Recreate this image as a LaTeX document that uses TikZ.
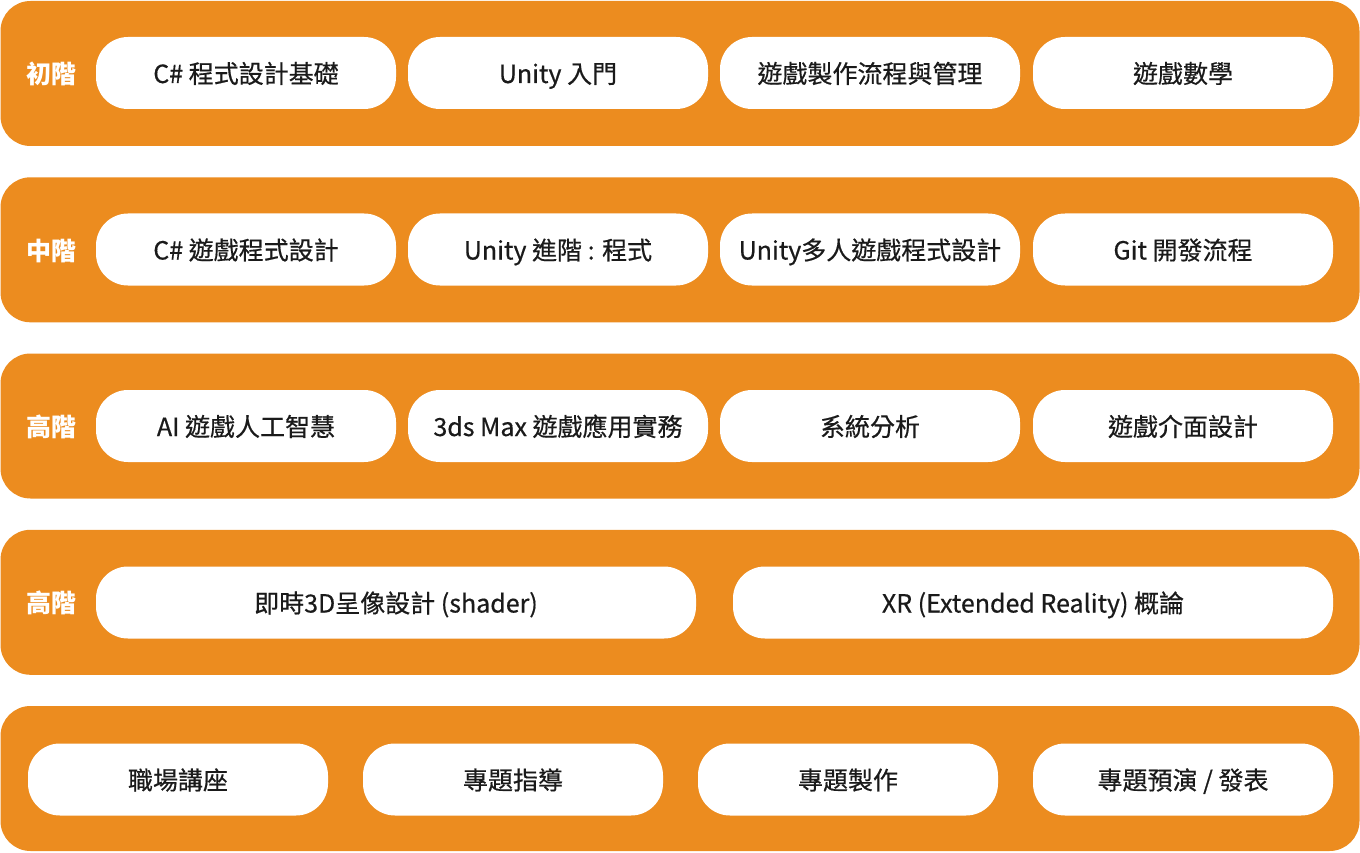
\documentclass[tikz,border=0pt]{standalone}
\usepackage{fontspec}
\setmainfont{Noto Sans CJK TC}
\newfontfamily\pillfont{Noto Sans CJK TC}[FakeBold=0.5]
\definecolor{bandorange}{HTML}{EC8C1F}
\definecolor{pilltext}{HTML}{1A1A1A}
\begin{document}
\begin{tikzpicture}[x=1pt,y=-1pt,
  band/.style={fill=bandorange,draw=none,rounded corners=30pt,minimum width=1359pt,minimum height=145pt,inner sep=0pt},
  pill/.style={fill=white,draw=none,rounded corners=32pt,minimum width=300pt,minimum height=72pt,inner sep=0pt},
  widepill/.style={pill,minimum width=600pt},
  lvl/.style={text=white,font=\fontsize{25}{28}\selectfont\bfseries,inner sep=0pt,text height=20pt,text depth=0pt},
  ptext/.style={font=\pillfont\fontsize{25}{28}\selectfont,text=pilltext,inner sep=0pt,text height=20pt,text depth=0pt}]
\useasboundingbox (0,0) rectangle (1360,853);
% bands
\node[band] (b1) at (680,73.5) {};
\node[band] (b2) at (680,249.8) {};
\node[band] (b3) at (680,426) {};
\node[band] (b4) at (680,602.3) {};
\node[band] (b5) at (680,778.5) {};
% level labels
\node[lvl] (l1) at (52,73.5) {初階};
\node[lvl] (l2) at (52,250) {中階};
\node[lvl] (l3) at (52,426.5) {高階};
\node[lvl] (l4) at (52,602.8) {高階};
% row 1
\node[pill] (p11) at (246,73) {};
\node[pill] (p12) at (558,73) {};
\node[pill] (p13) at (870,73) {};
\node[pill] (p14) at (1183,73) {};
% row 2
\node[pill] (p21) at (246,249.5) {};
\node[pill] (p22) at (558,249.5) {};
\node[pill] (p23) at (870,249.5) {};
\node[pill] (p24) at (1183,249.5) {};
% row 3
\node[pill] (p31) at (246,426) {};
\node[pill] (p32) at (558,426) {};
\node[pill] (p33) at (870,426) {};
\node[pill] (p34) at (1183,426) {};
% row 4
\node[widepill] (p41) at (396,602.5) {};
\node[widepill] (p42) at (1033,602.5) {};
% row 5
\node[pill] (p51) at (178,779.5) {};
\node[pill] (p52) at (513,779.5) {};
\node[pill] (p53) at (848,779.5) {};
\node[pill] (p54) at (1183,779.5) {};
% texts
\node[ptext] (t11) at (p11) {C\# 程式設計基礎};
\node[ptext] (t12) at (p12) {Unity 入門};
\node[ptext] (t13) at (p13) {遊戲製作流程與管理};
\node[ptext] (t14) at (p14) {遊戲數學};
\node[ptext] (t21) at (p21) {C\# 遊戲程式設計};
\node[ptext] (t22) at (p22) {Unity 進階 : 程式};
\node[ptext] (t23) at (p23) {Unity多人遊戲程式設計};
\node[ptext] (t24) at (p24) {Git 開發流程};
\node[ptext] (t31) at (p31) {AI 遊戲人工智慧};
\node[ptext] (t32) at (p32) {3ds Max 遊戲應用實務};
\node[ptext] (t33) at (p33) {系統分析};
\node[ptext] (t34) at (p34) {遊戲介面設計};
\node[ptext] (t41) at (p41) {即時3D呈像設計 (shader)};
\node[ptext] (t42) at (p42) {XR (Extended Reality) 概論};
\node[ptext] (t51) at (p51) {職場講座};
\node[ptext] (t52) at (p52) {專題指導};
\node[ptext] (t53) at (p53) {專題製作};
\node[ptext] (t54) at (p54) {專題預演 / 發表};
\end{tikzpicture}
\end{document}
